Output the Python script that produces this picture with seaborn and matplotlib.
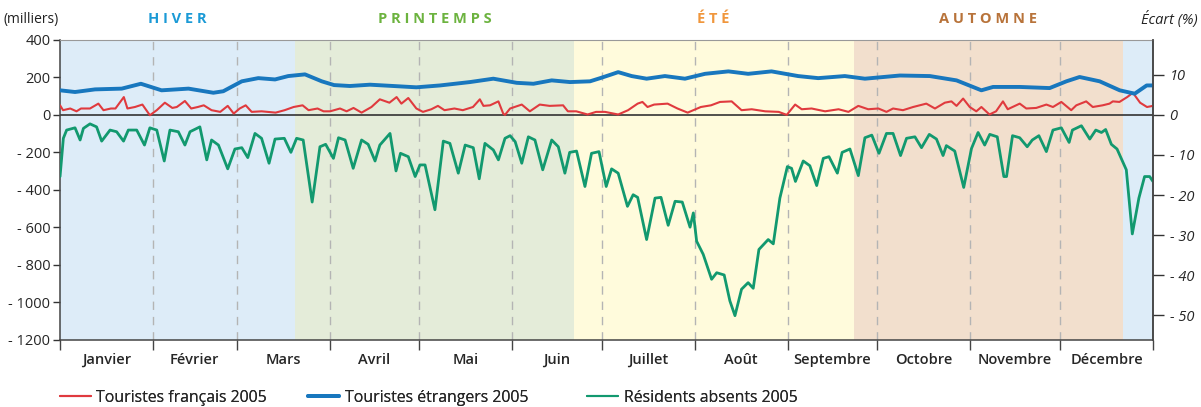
import numpy as np
import pandas as pd
import matplotlib
matplotlib.use("Agg")
import matplotlib.pyplot as plt
import seaborn as sns
from matplotlib.lines import Line2D

# Data, as (day of year, value in thousands):

touristes_fr = [
    (0, 51), (1, 25), (3.4, 34), (5.5, 19), (7, 34), (10, 34), (12.8, 60), (14.5, 25),
    (17, 34), (18.5, 34), (21.3, 95), (22.5, 34), (25, 42), (27.5, 55), (30, -2), (32.3, 25),
    (35, 65), (37.5, 37), (39, 42), (41.7, 74), (43.8, 34), (46, 42), (48, 51), (50.6, 25),
    (53.5, 16), (56, 48), (58, 7), (60, 34), (62, 51), (64, 16), (67.3, 19), (72, 12),
    (75, 25), (78, 42), (81, 51), (83, 25), (86, 34), (88, 19),
    (90.2, 19), (93.5, 34), (95.7, 19), (98, 37), (100.7, 12), (104, 42), (106.8, 83),
    (110, 65), (112.4, 95), (114, 60), (116.3, 90), (119, 34), (121.2, 16), (124, 30),
    (126.2, 48), (128.4, 25), (131.7, 34), (134.5, 25), (137.9, 42), (140.2, 83),
    (141.4, 48), (143.6, 51), (146.4, 72), (148, 7), (148.6, 0), (150.3, 34), (154.2, 55),
    (156.9, 19), (160.2, 55), (163.5, 48), (168, 51), (169.6, 19), (172.4, 19), (176.2, 2),
    (179, 16),
    (182, 16), (186.4, 2), (189.7, 25), (192.9, 60), (194.5, 69), (196.2, 42), (198.4, 55),
    (202.9, 60), (206.2, 34), (209.6, 12), (214, 42), (217.4, 51), (220.4, 69), (224.3, 72),
    (227.6, 25), (231, 30), (235.5, 19), (240, 16), (242.7, 0), (245.5, 55), (247.7, 30),
    (251, 34), (255.5, 19), (260, 30), (263.3, 16), (266.6, 48), (269.9, 30), (273.3, 34),
    (276, 16), (278.2, 34), (281.5, 25), (284.9, 42), (289.3, 60), (292.2, 34), (295.5, 65),
    (297.7, 72), (299.4, 48), (301.6, 87), (303.8, 42), (306, 19), (307.7, 42), (310.4, 2),
    (312.6, 19), (314.9, 72), (316.5, 30), (320.5, 60), (322.7, 34), (326, 37), (329.4, 55),
    (331.6, 42), (334.4, 69), (337.7, 25), (339.4, 51), (342.7, 72), (344.9, 42),
    (348.2, 51), (350.5, 60), (351.6, 72), (353.8, 69), (356.4, 95), (358.3, 118),
    (360.7, 65), (363, 42), (365, 48),
]

touristes_et = [
    (0, 131), (5, 122), (11.7, 136), (20.6, 140), (27, 166), (33.9, 131), (42.9, 140),
    (51.2, 118), (54.5, 126), (60.7, 179), (66.2, 196), (71.8, 189), (76.2, 207),
    (81.8, 216), (87.4, 179), (91.5, 159), (96.8, 154), (103.5, 161), (111.3, 154),
    (119, 147), (126.9, 157), (136.9, 175), (144.7, 193), (152.5, 171), (158.1, 166),
    (164.2, 184), (170.3, 175), (177, 179), (180.4, 196), (184, 215), (186.4, 228),
    (190.9, 207), (195.9, 193), (202, 207), (208.7, 193), (215.4, 219), (223.2, 232),
    (229.8, 219), (237.6, 232), (246.5, 207), (253.2, 196), (262.1, 207), (268.8, 193),
    (275, 202), (280.5, 210), (290.5, 207), (299.4, 184), (307.7, 131), (311.6, 149),
    (320.5, 149), (330.5, 143), (336.1, 179), (340.5, 202), (347.2, 179), (353.9, 131),
    (358.9, 113), (362.9, 157), (365, 157),
]

residents = [
    (0, -329), (1.1, -125), (2.2, -81), (5, -69), (6.7, -134), (7.8, -72), (10, -48),
    (12.2, -64), (13.9, -140), (16.7, -81), (18.9, -90), (21.2, -140), (22.8, -81),
    (25.6, -81), (28.2, -161), (30, -69), (32.3, -81), (34.8, -246), (36.7, -81),
    (39.5, -90), (41.7, -161), (43.4, -90), (46.7, -64), (49, -240), (50.6, -134),
    (52.9, -161), (56, -288), (58.4, -182), (60.7, -175), (62.7, -228), (65.1, -99),
    (67.3, -125), (69.8, -258), (71.8, -129), (74.9, -125), (77.1, -200), (79, -125),
    (81.2, -134), (84.2, -465), (86.8, -170), (88.7, -157), (91.3, -232),
    (93, -122), (95.2, -134), (97.9, -285), (100.7, -134), (102.9, -157), (105.2, -246),
    (106.8, -161), (110.2, -99), (112.2, -299), (113.7, -205), (116.3, -223),
    (118.6, -329), (120.2, -267), (121.9, -267), (125.2, -506), (128, -140),
    (130.2, -152), (133, -311), (135.3, -161), (138, -175), (140, -341), (141.9, -152),
    (144.7, -187), (146.4, -240), (148.6, -125), (150.3, -111), (152, -143),
    (154.2, -258), (156.4, -117), (158.6, -134), (161.2, -293), (164.2, -134),
    (166.4, -170), (168.6, -311), (170.2, -200), (172.5, -193), (175.3, -382),
    (177.5, -205), (180, -196), (182.4, -382), (184.2, -288), (186.4, -311),
    (189.5, -488), (191.4, -426), (192.9, -440), (195.9, -665), (198.7, -444),
    (200.7, -440), (203.1, -589), (205.4, -461), (207.8, -465), (210.4, -599),
    (211.5, -523), (212.6, -674), (214.8, -744), (217.6, -877), (219.3, -842),
    (221.8, -854), (223.7, -992), (225.4, -1071), (227.6, -930), (229.8, -895),
    (231.5, -925), (233.4, -718), (236.5, -665), (238.2, -688), (240.4, -444),
    (242.9, -276), (244.3, -285), (245.6, -355), (248.2, -246), (250.4, -271),
    (252.7, -377), (254.9, -232), (256.8, -223), (259.6, -311), (261.2, -200),
    (263.8, -182), (266.6, -324), (268.8, -122), (271.1, -108), (273.5, -205),
    (276, -99), (278.2, -99), (280.7, -217), (282.7, -125), (285.5, -117), (287.7, -175),
    (290.3, -104), (292.7, -129), (294.9, -217), (296, -164), (298.8, -193),
    (301.8, -387), (304.4, -179), (306.6, -94), (308.8, -161), (310.5, -104),
    (313, -117), (315.2, -329), (316.1, -329), (318.1, -111), (320.5, -122), (323, -170),
    (324.7, -134), (326.9, -111), (329.4, -196), (331.6, -81), (334.4, -69), (337, -147),
    (338.1, -81), (341.1, -58), (343.9, -129), (345.9, -81), (347.8, -94), (349.2, -78),
    (351.1, -157), (353, -182), (356.1, -293), (358.1, -635), (360.3, -444),
    (362.2, -329), (363.9, -329), (365, -355),
]

months = ["Janvier", "Février", "Mars", "Avril", "Mai", "Juin", "Juillet", "Août",
          "Septembre", "Octobre", "Novembre", "Décembre"]
month_starts = [0, 31, 59, 90, 120, 151, 181, 212, 243, 273, 304, 334, 365]

seasons = ["H I V E R", "P R I N T E M P S", "É T É", "A U T O M N E"]
season_bounds = [0, 78.5, 171.5, 265, 355, 365]
season_fill = ["#ddecf8", "#e4ecd9", "#fffbdc", "#f2dfcd", "#ddecf8"]
season_text = ["#1b9ad6", "#6cb33f", "#f0963c", "#b8733a"]

left_ticks = [400, 200, 0, -200, -400, -600, -800, -1000, -1200]
right_ticks = [10, 0, -10, -20, -30, -40, -50]

c_fr = "#e03a3e"
c_et = "#1877be"
c_res = "#12996f"

# Building the dataframes for seaborn:
df_fr = pd.DataFrame(touristes_fr, columns=["jour", "val"])
df_et = pd.DataFrame(touristes_et, columns=["jour", "val"])
df_res = pd.DataFrame(residents, columns=["jour", "val"])

sns.set_style("ticks")
plt.rcParams["font.family"] = ["Open Sans", "DejaVu Sans"]

fig = plt.figure(figsize=(12.01, 4.07), dpi=100)
ax = fig.add_axes([0.05, 0.165, 0.91, 0.737])

# Season background:
for i in range(len(season_fill)):
    ax.axvspan(season_bounds[i], season_bounds[i + 1], color=season_fill[i], lw=0, zorder=0)

# Dashed month separators:
for d in month_starts[1:-1]:
    ax.axvline(d, color="#b4b4b4", lw=1, ls=(0, (6, 5)), zorder=1)

ax.axhline(0, color="#333333", lw=1.2, zorder=2)

# The three series:
sns.lineplot(data=df_res, x="jour", y="val", ax=ax, color=c_res, lw=2.0, zorder=3)
sns.lineplot(data=df_fr, x="jour", y="val", ax=ax, color=c_fr, lw=1.5, zorder=4)
sns.lineplot(data=df_et, x="jour", y="val", ax=ax, color=c_et, lw=2.8, zorder=5)

ax.set_xlim(0, 365)
ax.set_ylim(-1200, 400)
ax.set_xlabel("")
ax.set_ylabel("")

# Left axis ticks:
ax.set_yticks(left_ticks)
ax.set_yticklabels([str(v) if v >= 0 else "- " + str(-v) for v in left_ticks], fontsize=10.5)
ax.tick_params(axis="y", length=5, width=1, color="#333333", pad=2)

# Months: ticks at boundaries, labels in the middle:
ax.set_xticks(month_starts)
ax.set_xticklabels([])
ax.set_xticks([(month_starts[i] + month_starts[i + 1]) / 2 for i in range(12)], minor=True)
ax.set_xticklabels(months, minor=True, fontsize=10.5, fontweight="semibold")
ax.tick_params(axis="x", which="major", direction="out", length=7, width=1, color="#444444")
ax.tick_params(axis="x", which="minor", length=0, pad=9.5)

for side in ["left", "bottom", "right"]:
    ax.spines[side].set_color("#444444")
    ax.spines[side].set_linewidth(1.1)
ax.spines["top"].set_visible(True)
ax.spines["top"].set_color("#999999")
ax.spines["top"].set_linewidth(0.8)

# Right axis (Ecart %):
ax2 = ax.twinx()
ax2.set_ylim(-1200 / 21.4, 400 / 21.4)
ax2.set_yticks(right_ticks)
ax2.set_yticklabels([str(v) if v >= 0 else "- " + str(-v) for v in right_ticks],
                    fontsize=10.5, style="italic")
ax2.tick_params(axis="y", length=8, width=1, color="#333333", pad=4)
ax2.spines["right"].set_color("#444444")
ax2.spines["right"].set_linewidth(1.1)
for side in ["left", "bottom", "top"]:
    ax2.spines[side].set_visible(False)

# Season titles and axis captions:
for i, name in enumerate(seasons):
    xm = (season_bounds[i] + season_bounds[i + 1]) / 2
    if i == 0:
        xm = 39
    ax.text(xm, 1.07, name, transform=ax.get_xaxis_transform(), ha="center", va="center",
            fontsize=10.5, fontweight="bold", color=season_text[i])

fig.text(0.003, 0.953, "(milliers)", fontsize=10, ha="left", va="center", color="#222222")
fig.text(0.997, 0.953, "Écart (%)", fontsize=10.5, ha="right", va="center",
         style="italic", color="#222222")

# Legend: one small legend per entry so the gaps match the original
handles = [Line2D([], [], color=c_fr, lw=1.5),
           Line2D([], [], color=c_et, lw=2.8),
           Line2D([], [], color=c_res, lw=1.5)]
labels = ["Touristes français 2005", "Touristes étrangers 2005", "Résidents absents 2005"]
legend_x = [0.038, 0.245, 0.477]
for h, lab, lx in zip(handles, labels, legend_x):
    leg = fig.legend([h], [lab], loc="lower left", bbox_to_anchor=(lx, -0.032),
                     frameon=False, fontsize=11.4, handlelength=1.95, handletextpad=0.35)
    fig.add_artist(leg)

fig.savefig("out.png", dpi=100)
